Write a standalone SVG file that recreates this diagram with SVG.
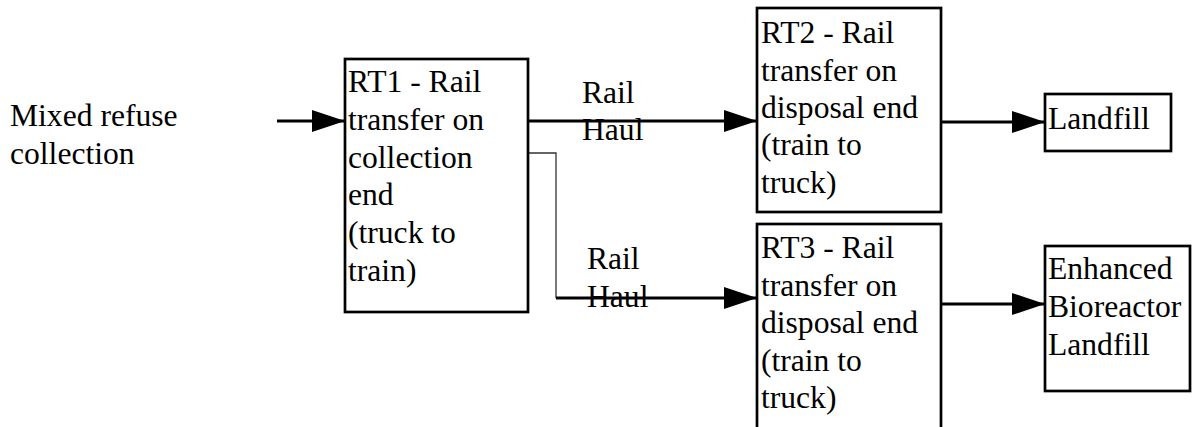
<svg xmlns="http://www.w3.org/2000/svg" width="1196" height="427" viewBox="0 0 1196 427">
<style>
text{font-family:'Liberation Serif','Times New Roman',Times,serif;font-size:31.6px;fill:#000}
.box{fill:#fff;stroke:#000;stroke-width:2.7}
.line{fill:none;stroke:#000;stroke-width:3}
.thin{fill:none;stroke:#333;stroke-width:1.3}
</style>
<defs>
<marker id="arr" markerUnits="userSpaceOnUse" markerWidth="34" markerHeight="24" refX="33" refY="12" orient="auto">
<path d="M0,1 L33,12 L0,23 z" fill="#000"/>
</marker>
</defs>
<g id="connectors">
<line class="line" x1="277" y1="121" x2="345" y2="121" marker-end="url(#arr)"/>
<line class="line" x1="528" y1="121" x2="757" y2="121" marker-end="url(#arr)"/>
<polyline class="thin" points="528,153 556,153 556,298"/>
<line class="line" x1="556" y1="298" x2="757" y2="298" marker-end="url(#arr)"/>
<line class="line" x1="941" y1="122" x2="1045" y2="122" marker-end="url(#arr)"/>
<line class="line" x1="941" y1="304" x2="1045" y2="304" marker-end="url(#arr)"/>
</g>
<g id="label-source">
<text x="10" y="126">Mixed refuse</text>
<text x="10" y="164">collection</text>
</g>
<g id="label-haul1">
<text x="582" y="103">Rail</text>
<text x="582" y="140">Haul</text>
</g>
<g id="label-haul2">
<text x="587" y="269">Rail</text>
<text x="587" y="307">Haul</text>
</g>
<g id="RT1">
<rect class="box" x="345" y="59" width="183" height="253"/>
<text x="348" y="92">RT1 - Rail</text>
<text x="348" y="130">transfer on</text>
<text x="348" y="168">collection</text>
<text x="348" y="205">end</text>
<text x="348" y="243">(truck to</text>
<text x="348" y="281">train)</text>
</g>
<g id="RT2">
<rect class="box" x="757" y="8" width="184" height="204"/>
<text x="761" y="43">RT2 - Rail</text>
<text x="761" y="81">transfer on</text>
<text x="761" y="118">disposal end</text>
<text x="761" y="155">(train to</text>
<text x="761" y="193">truck)</text>
</g>
<g id="RT3">
<rect class="box" x="757" y="224" width="184" height="220"/>
<text x="761" y="258">RT3 - Rail</text>
<text x="761" y="296">transfer on</text>
<text x="761" y="333">disposal end</text>
<text x="761" y="371">(train to</text>
<text x="761" y="408">truck)</text>
</g>
<g id="landfill">
<rect class="box" x="1045" y="94" width="126" height="57"/>
<text x="1048" y="129">Landfill</text>
</g>
<g id="bioreactor">
<rect class="box" x="1045" y="246" width="145" height="145"/>
<text x="1048" y="279">Enhanced</text>
<text x="1048" y="317">Bioreactor</text>
<text x="1048" y="355">Landfill</text>
</g>
</svg>
